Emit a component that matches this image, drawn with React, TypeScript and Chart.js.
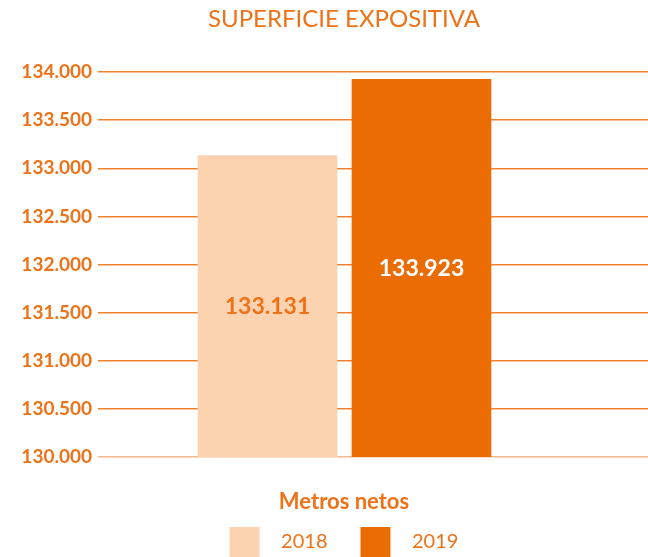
import React, { useEffect, useRef } from "react";
import { Chart, registerables } from "chart.js";

Chart.register(...registerables);

const chartTitle = "SUPERFICIE EXPOSITIVA";
const axisTitle = "Metros netos";
const years = ["2018", "2019"];
const values = [133131, 133923];
const yMin = 130000;
const yMax = 134000;
const yStep = 500;

const barColors = ["#FBD3B0", "#EC6C04"];
const labelColors = ["#EE7218", "#FFFFFF"];
const orange = "#EE7218";
const FONT = "Lato";

const fmt = (v: number) => {
  const s = Math.round(v).toString();
  return s.replace(/\B(?=(\d{3})+(?!\d))/g, ".");
};

const barLabels = {
  id: "barLabels",
  afterDraw(chart: any) {
    const ctx = chart.ctx;
    const meta = chart.getDatasetMeta(0);
    const yScale = chart.scales.y;
    const base = yScale.getPixelForValue(yMin);
    ctx.save();
    ctx.font = `bold 23px ${FONT}`;
    ctx.textAlign = "center";
    ctx.textBaseline = "middle";
    meta.data.forEach((bar: any, i: number) => {
      const top = yScale.getPixelForValue(values[i]);
      ctx.fillStyle = labelColors[i];
      ctx.fillText(fmt(values[i]), bar.x, (top + base) / 2);
    });
    ctx.restore();
  },
};

export default function App() {
  const ref = useRef<HTMLCanvasElement>(null);
  useEffect(() => {
    if (!ref.current) return;
    const chart = new Chart(ref.current, {
      type: "bar",
      data: {
        datasets: [
          {
            label: axisTitle,
            data: values.map((v, i) => ({ x: i + 1, y: v })),
            backgroundColor: barColors,
            borderWidth: 0,
            barThickness: 139,
          },
        ],
      },
      options: {
        responsive: false,
        animation: false,
        devicePixelRatio: 1,
        layout: { padding: 0 },
        scales: {
          x: {
            type: "linear",
            display: false,
            min: -0.1006,
            max: 3.7306,
            offset: false,
            grid: { display: false },
          },
          y: {
            min: yMin,
            max: yMax,
            border: { display: false },
            grid: {
              drawTicks: false,
              lineWidth: 1.5,
              color: (c: any) => (c.tick && c.tick.value === yMin ? "#F5B98C" : "#F0822E"),
            },
            ticks: {
              stepSize: yStep,
              padding: 6,
              color: orange,
              font: { family: FONT, size: 19, weight: "bold" },
              callback: (v: any) => fmt(Number(v)),
            },
            afterFit: (s: any) => {
              s.width = 98;
            },
          },
        },
        plugins: {
          tooltip: { enabled: false },
          title: {
            display: true,
            text: chartTitle,
            color: orange,
            font: { family: FONT, size: 24, weight: "normal" },
            padding: { top: 5, bottom: 38.2 },
          },
          legend: {
            position: "bottom",
            align: "center",
            title: {
              display: true,
              text: axisTitle,
              color: orange,
              font: { family: FONT, size: 22, weight: "bold" },
              padding: { top: 33.6, bottom: 0 },
            },
            labels: {
              boxWidth: 30,
              boxHeight: 30,
              padding: 10,
              color: orange,
              font: { family: FONT, size: 20, weight: "normal" },
              generateLabels: () =>
                years.map((y, i) => ({
                  text: "  \u200A" + y + (i === 0 ? "    \u200A\u200A" : ""),
                  fillStyle: barColors[i],
                  strokeStyle: barColors[i],
                  lineWidth: 0,
                  fontColor: orange,
                  hidden: false,
                  datasetIndex: 0,
                  index: i,
                })),
            },
          },
        },
      },
      plugins: [barLabels],
    } as any);
    return () => chart.destroy();
  }, []);

  return (
    <div
      style={{
        position: "fixed",
        left: 0,
        top: 0,
        width: 648,
        height: 557,
        overflow: "hidden",
        background: "#fff",
      }}
    >
      <canvas ref={ref} width={688} height={567} style={{ display: "block" }} />
    </div>
  );
}
